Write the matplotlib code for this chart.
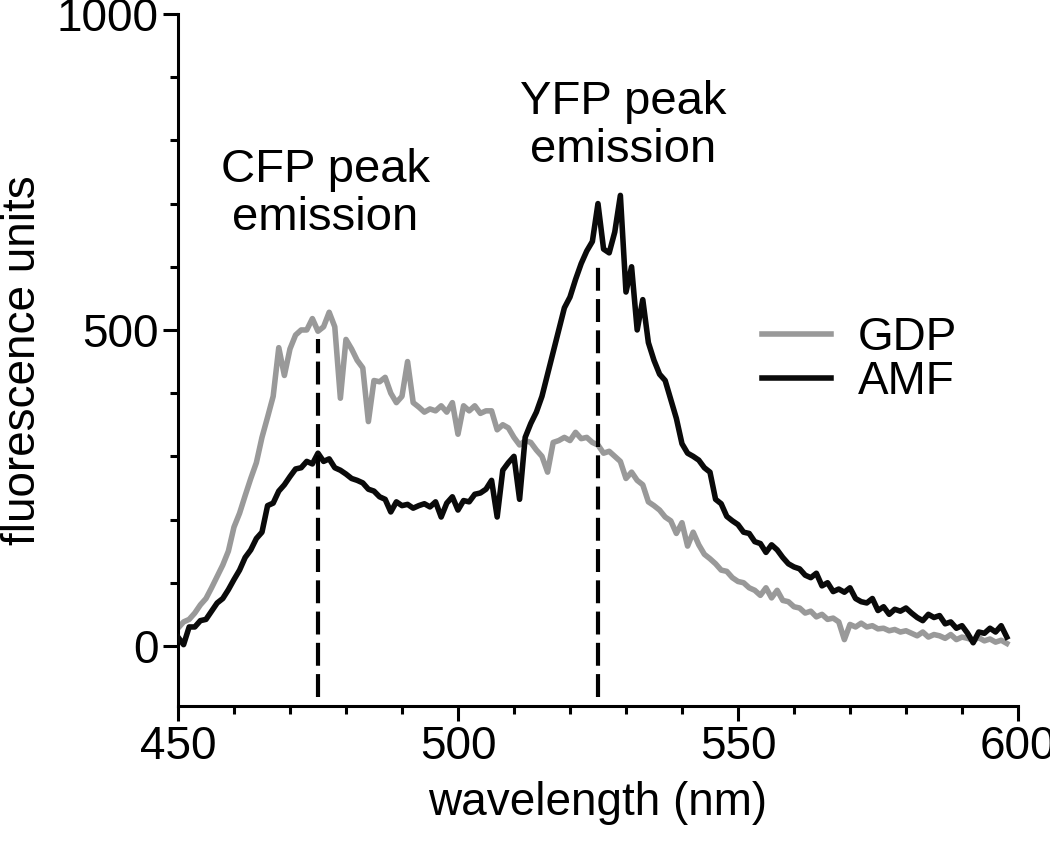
import matplotlib
matplotlib.use("Agg")
import matplotlib.pyplot as plt
import numpy as np

plt.rcParams['font.family'] = ['Liberation Sans', 'DejaVu Sans']

# wavelength grid (nm), one reading per nm
wavelength = np.arange(450, 599)

gdp = [28, 38, 42, 52, 65, 75, 92, 110, 128, 150,
       188, 210, 238, 265, 290, 330, 362, 395, 472, 428,
       470, 492, 500, 500, 518, 498, 505, 528, 505, 392,
       485, 470, 452, 440, 355, 420, 418, 425, 400, 385,
       395, 450, 385, 378, 370, 375, 372, 380, 370, 385,
       335, 380, 372, 380, 368, 372, 372, 342, 350, 345,
       330, 318, 325, 322, 310, 300, 275, 322, 325, 330,
       325, 338, 328, 330, 322, 318, 305, 308, 300, 292,
       265, 275, 262, 255, 228, 222, 215, 204, 198, 178,
       195, 158, 180, 160, 145, 138, 130, 120, 118, 108,
       102, 100, 92, 88, 80, 92, 76, 88, 72, 70,
       62, 60, 52, 55, 46, 50, 42, 44, 38, 10,
       34, 30, 36, 30, 32, 27, 28, 24, 26, 22,
       24, 20, 16, 22, 14, 18, 16, 12, 18, 10,
       14, 12, 9, 13, 8, 11, 6, 9, 4]

amf = [14, 2, 30, 30, 40, 42, 55, 68, 75, 89,
       105, 120, 140, 152, 170, 180, 222, 226, 245, 255,
       268, 280, 282, 292, 288, 305, 292, 296, 282, 278,
       272, 265, 262, 258, 248, 245, 236, 232, 212, 228,
       222, 224, 218, 222, 225, 220, 228, 204, 226, 236,
       215, 230, 228, 240, 242, 248, 262, 204, 278, 290,
       300, 232, 330, 352, 370, 395, 430, 465, 500, 535,
       552, 580, 605, 625, 640, 700, 628, 622, 655, 713,
       560, 600, 500, 548, 480, 452, 430, 420, 390, 360,
       320, 305, 300, 294, 282, 275, 232, 225, 205, 198,
       192, 180, 178, 165, 162, 148, 160, 152, 140, 130,
       125, 122, 112, 108, 115, 95, 100, 86, 90, 85,
       92, 75, 70, 68, 75, 56, 62, 50, 58, 55,
       60, 52, 45, 40, 50, 45, 48, 35, 38, 28,
       32, 20, 5, 22, 20, 28, 22, 32, 14]

# peak emission markers: (wavelength, top of dashed line)
peak_nm = [475, 525]
peak_top = [485, 611]
peak_labels = ['CFP peak\nemission', 'YFP peak\nemission']
label_pos = [(476.3, 715), (529.5, 823)]

fs = 33

fig = plt.figure(figsize=(10.5, 8.48), dpi=100)
ax = fig.add_axes([0.1695, 0.1675, 0.8, 0.816])

ax.plot(wavelength, gdp, color='#999999', lw=4, label='GDP', zorder=2)
ax.plot(wavelength, amf, color='#0a0a0a', lw=4, label='AMF', zorder=3)

for x, top in zip(peak_nm, peak_top):
    ax.plot([x, x], [-81, top], color='black', lw=3, dashes=(5.5, 2), zorder=4)

for txt, (x, y) in zip(peak_labels, label_pos):
    ax.text(x, y, txt, ha='center', va='center', fontsize=34, linespacing=1.1)

ax.set_xlim(450, 600)
ax.set_ylim(-95, 1000)
ax.set_xticks([450, 500, 550, 600])
ax.set_xticks(np.arange(460, 600, 10), minor=True)
ax.set_yticks([0, 500, 1000])
ax.set_yticks(np.arange(100, 1000, 100), minor=True)

for side in ['top', 'right']:
    ax.spines[side].set_visible(False)
for side in ['left', 'bottom']:
    ax.spines[side].set_linewidth(2.2)

ax.tick_params(which='major', length=11, width=2.2, labelsize=fs, pad=3)
ax.tick_params(which='minor', length=6, width=2.2)

ax.set_xlabel('wavelength (nm)', fontsize=fs, labelpad=8)
ax.set_ylabel('fluorescence units', fontsize=fs, labelpad=8)

ax.legend(loc='center left', bbox_to_anchor=(0.695, 0.50), frameon=False,
          fontsize=fs, handlelength=1.5, handletextpad=0.6, labelspacing=0.0,
          borderpad=0, borderaxespad=0)

fig.savefig('out.png', dpi=100)
